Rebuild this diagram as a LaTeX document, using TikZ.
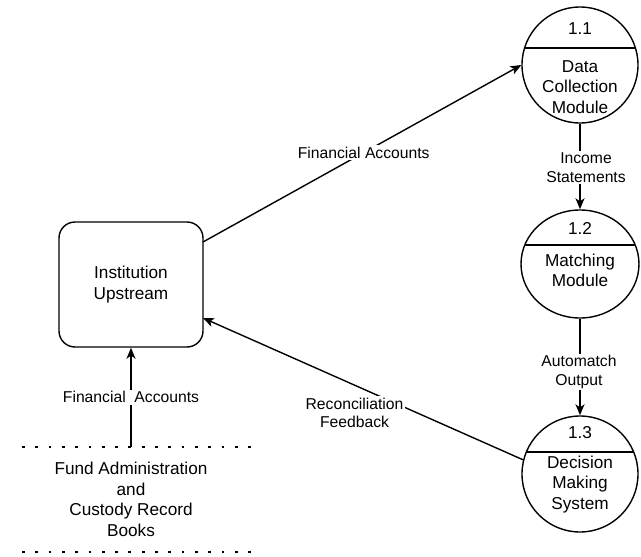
\documentclass[tikz,border=0pt]{standalone}
\usepackage{fontspec}
\setmainfont{Liberation Sans}
\usetikzlibrary{shapes.geometric,arrows.meta}
\begin{document}
\begin{tikzpicture}[x=1pt,y=-1pt,
  line width=1.4pt,
  flow/.style={-{Stealth[length=11pt,width=9pt,inset=3pt]}},
  proc/.style={draw,ellipse,inner sep=0pt},
  ntext/.style={font=\fontsize{17.2}{20.6}\selectfont,align=center,inner sep=0pt},
  lbl/.style={font=\fontsize{15.7}{18.5}\selectfont,align=center,fill=white,inner sep=1.5pt},
  entity/.style={draw,rounded corners=16pt,minimum width=144pt,minimum height=125pt,inner sep=0pt},
  store/.style={line width=2.8pt,dash pattern=on 2.8pt off 10.5pt}
]
\useasboundingbox (0,0) rectangle (641,557);

% processes
\node[proc,minimum width=116pt,minimum height=116pt] (c1) at (580,65) {};
\node[proc,minimum width=118pt,minimum height=108pt] (c2) at (580,264) {};
\node[proc,minimum width=116pt,minimum height=116pt] (c3) at (580,474) {};

\begin{scope}
  \clip (580,65) ellipse [x radius=58, y radius=58];
  \draw (500,48) -- (660,48);
\end{scope}
\begin{scope}
  \clip (580,264) ellipse [x radius=59, y radius=54];
  \draw (500,245) -- (660,245);
\end{scope}
\begin{scope}
  \clip (580,474) ellipse [x radius=58, y radius=58];
  \draw (500,452) -- (660,452);
\end{scope}

\node[ntext] (n1) at (580,29) {1.1};
\node[ntext] (t1) at (580,87) {Data\\Collection\\Module};
\node[ntext] (n2) at (580,228) {1.2};
\node[ntext] (t2) at (580,270.5) {Matching\\Module};
\node[ntext] (n3) at (580,433) {1.3};
\node[ntext] (t3) at (580,484.5) {Decision\\Making\\System};

% external entity
\node[entity] (inst) at (131,284.5) {};
\node[ntext] (itext) at (131,284.5) {Institution\\Upstream};

% data store
\coordinate (s1a) at (22,447);
\coordinate (s1b) at (256,447);
\coordinate (s2a) at (22,552);
\coordinate (s2b) at (256,552);
\draw[store] (s1a) -- (s1b);
\draw[store] (s2a) -- (s2b);
\node[ntext] (fund) at (131,499.5) {Fund Administration\\and\\Custody Record\\Books};

% connectors
\coordinate (instA) at (203,242);
\coordinate (instB) at (203,318);
\coordinate (storeTop) at (131,447);

\draw[flow] (instA) -- node[lbl,pos=0.505] (l1) {Financial Accounts} (c1.west);
\draw[flow] (c1.south) -- (c2.north);
\draw[flow] (c2.south) -- (c3.north);
\draw[flow] (c3.166) -- (instB);
\draw[flow] (storeTop) -- node[lbl,pos=0.5] (l5) {Financial~~Accounts} (inst.south);

\node[lbl] (l2) at (586,167.5) {Income\\Statements};
\node[lbl] (l3) at (579,372) {Automatch\\Output};
\node[lbl] (l4) at (354.5,413) {Reconciliation\\Feedback};
\end{tikzpicture}
\end{document}
